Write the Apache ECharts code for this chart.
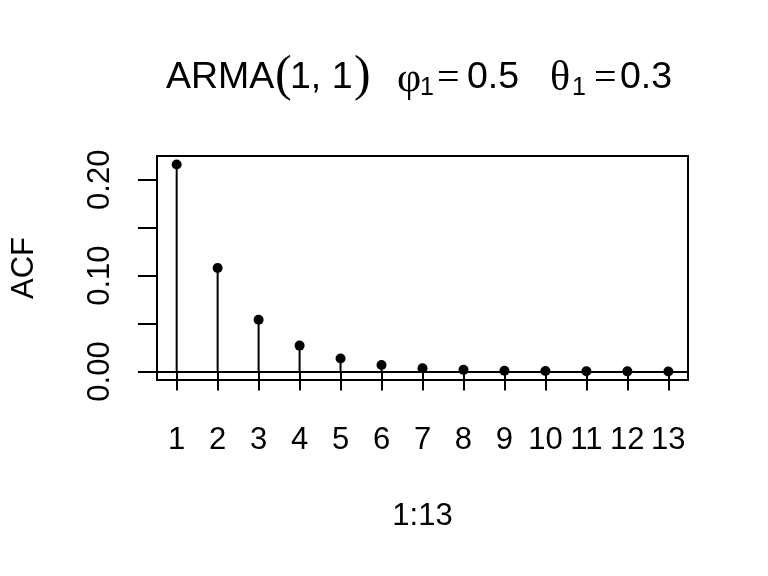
<!DOCTYPE html>
<html><head><meta charset="utf-8">
<script src="https://cdn.jsdelivr.net/npm/echarts@6/dist/echarts.min.js"></script>
<style>html,body{margin:0;padding:0;background:#fff}#c{width:768px;height:576px}</style>
</head><body><div id="c"></div>
<script>
// data
const lags = [1, 2, 3, 4, 5, 6, 7, 8, 9, 10, 11, 12, 13];
const acfValues = [0.216, 0.108, 0.054, 0.027, 0.0135, 0.0068, 0.0034, 0.0017, 0.0008, 0.0004, 0.0002, 0.0001, 0.00005];
const yTickValues = [0, 0.05, 0.10, 0.15, 0.20];
const yLabelValues = [0, 0.10, 0.20];
const xTickValues = lags;
const xAxisTitle = '1:13';
const yAxisTitle = 'ACF';

const SANS = '"Liberation Sans", Arial, sans-serif';
const SERIF = '"Liberation Serif", "Times New Roman", serif';

function t(text, x, y, size, fam) {
  return { type: 'text', x: x, y: y, silent: true,
    style: { text: text, font: size + 'px ' + fam, fill: '#000', textAlign: 'left', textVerticalAlign: 'middle' } };
}

const chart = echarts.init(document.getElementById('c'), null, { renderer: 'canvas' });
const pts = lags.map((l, i) => [l, acfValues[i]]);
chart.setOption({
  backgroundColor: '#fff',
  animation: false,
  grid: { left: 157, right: 80, top: 156, bottom: 196, show: true, borderColor: '#000', borderWidth: 2, backgroundColor: 'transparent' },
  graphic: [
    t('ARMA', 166, 78, 37.5, SANS),
    t('(', 275, 77, 50, SERIF),
    t('1, 1', 290, 78, 37.5, SANS),
    t(')', 354, 77, 50, SERIF),
    t('φ', 397, 80, 42, SERIF),
    t('1', 420, 88, 25, SANS),
    t('=', 437, 79, 40, SERIF),
    t('0.5', 467, 78, 37.5, SANS),
    t('θ', 550, 79, 42, SERIF),
    t('1', 572, 88, 25, SANS),
    t('=', 594, 79, 40, SERIF),
    t('0.3', 620, 78, 37.5, SANS)
  ],
  xAxis: {
    type: 'value', min: 0.52, max: 13.48,
    name: xAxisTitle, nameLocation: 'middle', nameGap: 121,
    nameTextStyle: { fontFamily: SANS, fontSize: 31, color: '#000' },
    axisLine: { show: false },
    splitLine: { show: false },
    axisTick: { show: true, inside: false, length: 19, customValues: xTickValues, lineStyle: { color: '#000', width: 2 } },
    axisLabel: { show: true, customValues: xTickValues, margin: 45, fontFamily: SANS, fontSize: 31, color: '#000', hideOverlap: false, showMinLabel: true, showMaxLabel: true }
  },
  yAxis: {
    type: 'value', min: -0.0089, max: 0.2248,
    name: yAxisTitle, nameLocation: 'middle', nameGap: 117, nameRotate: 90,
    nameTextStyle: { fontFamily: SANS, fontSize: 31, color: '#000' },
    axisLine: { show: false },
    splitLine: { show: false },
    axisTick: { show: true, inside: false, length: 19, customValues: yTickValues, lineStyle: { color: '#000', width: 2 } },
    axisLabel: { show: true, rotate: 90, customValues: yLabelValues, margin: 41, fontFamily: SANS, fontSize: 31, color: '#000',
      formatter: v => v.toFixed(2), hideOverlap: false }
  },
  series: [
    { type: 'bar', data: pts, barWidth: 2, itemStyle: { color: '#000', opacity: 1 }, silent: true, z: 2 },
    { type: 'scatter', data: pts, symbol: 'circle', symbolSize: 10, itemStyle: { color: '#000', opacity: 1 }, silent: true, z: 3,
      markLine: { silent: true, symbol: 'none', label: { show: false }, lineStyle: { color: '#000', width: 2, type: 'solid', opacity: 1 },
        data: [{ yAxis: 0 }] } }
  ]
});
</script></body></html>
